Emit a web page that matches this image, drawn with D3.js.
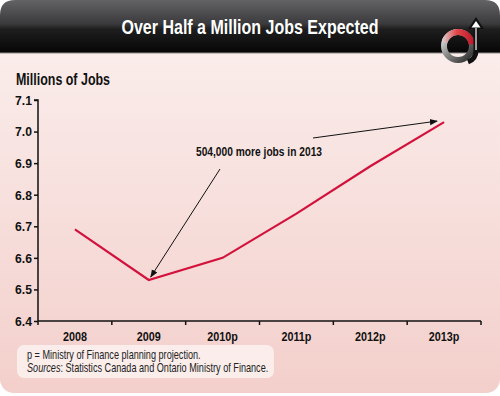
<!DOCTYPE html>
<html>
<head>
<meta charset="utf-8">
<script src="https://cdn.jsdelivr.net/npm/d3@7"></script>
<style>
  body { margin: 0; background: #fff; }
  svg text { font-family: "Liberation Sans", Arial, sans-serif; }
</style>
</head>
<body>
<svg id="chart" width="500" height="396"></svg>
<script>
// data
const years = ["2008", "2009", "2010p", "2011p", "2012p", "2013p"];
const jobs = [6.69, 6.53, 6.60, 6.74, 6.89, 7.03];
const yTicks = [6.4, 6.5, 6.6, 6.7, 6.8, 6.9, 7.0, 7.1];

const svg = d3.select("#chart");
const defs = svg.append("defs");

// squeeze text horizontally to mimic a condensed face
const condense = (sel, f) => sel.each(function() {
  const w = this.getComputedTextLength();
  d3.select(this).attr("textLength", w * f).attr("lengthAdjust", "spacingAndGlyphs");
});

// background gradient (pink panel)
const bg = defs.append("linearGradient").attr("id", "bgGrad").attr("x1", 0).attr("y1", 0).attr("x2", 0).attr("y2", 1);
bg.append("stop").attr("offset", "0%").attr("stop-color", "#fbf1ef");
bg.append("stop").attr("offset", "100%").attr("stop-color", "#f3cfcb");

const hdr = defs.append("linearGradient").attr("id", "hdrGrad").attr("x1", 0).attr("y1", 0).attr("x2", 0).attr("y2", 1);
hdr.append("stop").attr("offset", "0%").attr("stop-color", "#636365");
hdr.append("stop").attr("offset", "45%").attr("stop-color", "#3a3a3c");
hdr.append("stop").attr("offset", "55%").attr("stop-color", "#1e1e1e");
hdr.append("stop").attr("offset", "100%").attr("stop-color", "#060606");

const logoGrad = defs.append("linearGradient").attr("id", "logoGrad").attr("x1", 0).attr("y1", 0).attr("x2", 1).attr("y2", 1);
logoGrad.append("stop").attr("offset", "0%").attr("stop-color", "#eeeeee");
logoGrad.append("stop").attr("offset", "45%").attr("stop-color", "#8a8a8a");
logoGrad.append("stop").attr("offset", "100%").attr("stop-color", "#2a2a2a");

const redGrad = defs.append("linearGradient").attr("id", "redGrad").attr("x1", 0).attr("y1", 0).attr("x2", 1).attr("y2", 0);
redGrad.append("stop").attr("offset", "0%").attr("stop-color", "#d8d8d8");
redGrad.append("stop").attr("offset", "45%").attr("stop-color", "#e2464a");
redGrad.append("stop").attr("offset", "100%").attr("stop-color", "#b81626");

// panel
svg.append("rect").attr("x", 0).attr("y", 0).attr("width", 500).attr("height", 393)
  .attr("rx", 14).attr("fill", "url(#bgGrad)");

// header bar with rounded top only
svg.append("path")
  .attr("d", "M0,53 L0,15 Q0,0 15,0 L485,0 Q500,0 500,15 L500,53 Z")
  .attr("fill", "url(#hdrGrad)");
svg.append("line").attr("x1", 0).attr("x2", 500).attr("y1", 53).attr("y2", 53)
  .attr("stroke", "#8a8a8a").attr("stroke-width", 1);

svg.append("text").attr("x", 250).attr("y", 34).attr("text-anchor", "middle")
  .attr("fill", "#fff").attr("font-size", 21).attr("font-weight", "bold")
  .attr("textLength", 257).attr("lengthAdjust", "spacingAndGlyphs")
  .text("Over Half a Million Jobs Expected");

// logo (ring with arrow)
const logo = svg.append("g").attr("transform", "translate(458,46)");
logo.append("circle").attr("r", 14).attr("fill", "none").attr("stroke", "url(#logoGrad)").attr("stroke-width", 6);
logo.append("path").attr("d", d3.arc()({innerRadius: 11, outerRadius: 17, startAngle: -1.3, endAngle: 1.45}))
  .attr("fill", "url(#redGrad)");
logo.append("path").attr("d", "M10,16 Q18,13 18,4 L18,-18")
  .attr("fill", "none").attr("stroke", "#111").attr("stroke-width", 5);
logo.append("path").attr("d", "M10,-17 L18,-29 L26,-17 Z").attr("fill", "#111");
logo.append("path").attr("d", "M13.5,-18.5 L18,-25 L22.5,-18.5 Z").attr("fill", "#fff");
logo.append("path").attr("d", "M18,4 L18,-18").attr("stroke", "#e6e6e6").attr("stroke-width", 1.3);

// scales
const x = d3.scaleBand().domain(years).range([38, 481]);
const y = d3.scaleLinear().domain([6.4, 7.1]).range([321, 100]);

svg.append("text").attr("x", 16).attr("y", 85).attr("font-size", 16).attr("font-weight", "bold")
  .attr("fill", "#111").attr("textLength", 94).attr("lengthAdjust", "spacingAndGlyphs")
  .text("Millions of Jobs");

// y axis
const yAxis = svg.append("g").attr("transform", "translate(38,0)")
  .call(d3.axisLeft(y).tickValues(yTicks).tickFormat(d3.format(".1f")).tickSize(4).tickPadding(2));
yAxis.selectAll("path, line").attr("stroke", "#111").attr("stroke-width", 1.5);
yAxis.select(".domain").attr("d", "M0,321V100H-4");
yAxis.selectAll("text").attr("font-size", 13.5).attr("font-weight", "bold").attr("fill", "#111")
  .style("font-family", "'Liberation Sans', sans-serif").call(condense, 0.9);

// x axis
const xAxis = svg.append("g").attr("transform", "translate(0,321)")
  .call(d3.axisBottom(x).tickSize(0).tickPadding(10));
xAxis.select(".domain").attr("d", "M38,0H481").attr("stroke", "#111").attr("stroke-width", 1.5);
xAxis.selectAll("text").attr("font-size", 13.5).attr("font-weight", "bold").attr("fill", "#111")
  .style("font-family", "'Liberation Sans', sans-serif").call(condense, 0.8);
xAxis.selectAll(".edge").data(x.domain().map(d => x(d)).concat([x.range()[1]]))
  .enter().append("line").attr("class", "edge")
  .attr("x1", d => d).attr("x2", d => d).attr("y1", 0).attr("y2", 4)
  .attr("stroke", "#111").attr("stroke-width", 1.5);

// data line
const line = d3.line().x((d, i) => x(years[i]) + x.bandwidth() / 2).y(d => y(d));
svg.append("path").datum(jobs).attr("d", line)
  .attr("fill", "none").attr("stroke", "#d3123c").attr("stroke-width", 2.2).attr("stroke-linejoin", "miter");

// annotation
defs.append("marker").attr("id", "arr").attr("viewBox", "0 0 10 10").attr("refX", 9).attr("refY", 5)
  .attr("markerWidth", 8).attr("markerHeight", 8).attr("orient", "auto")
  .append("path").attr("d", "M0,1 L10,5 L0,9 Z").attr("fill", "#111");

svg.append("text").attr("x", 196).attr("y", 156).attr("font-size", 13.5).attr("font-weight", "bold")
  .attr("fill", "#111").attr("textLength", 126).attr("lengthAdjust", "spacingAndGlyphs")
  .text("504,000 more jobs in 2013");

const p09 = [x("2009") + x.bandwidth() / 2, y(jobs[1])];
const p13 = [x("2013p") + x.bandwidth() / 2, y(jobs[5])];
svg.append("line").attr("x1", 220).attr("y1", 169).attr("x2", p09[0] + 2).attr("y2", p09[1] - 3)
  .attr("stroke", "#111").attr("stroke-width", 1).attr("marker-end", "url(#arr)");
svg.append("line").attr("x1", 313).attr("y1", 138).attr("x2", p13[0] - 7).attr("y2", p13[1] - 1)
  .attr("stroke", "#111").attr("stroke-width", 1).attr("marker-end", "url(#arr)");

// footnote box
svg.append("rect").attr("x", 17).attr("y", 345).attr("width", 257).attr("height", 33).attr("rx", 7)
  .attr("fill", "#fbefed").attr("opacity", 0.9);
const note = svg.append("g").attr("transform", "translate(27,0) scale(0.73,1)");
note.append("text").attr("x", 0).attr("y", 359).attr("font-size", 12.5).attr("fill", "#222")
  .text("p = Ministry of Finance planning projection.");
const note2 = note.append("text").attr("x", 0).attr("y", 372).attr("font-size", 12.5).attr("fill", "#222");
note2.append("tspan").attr("font-style", "italic").text("Sources");
note2.append("tspan").text(": Statistics Canada and Ontario Ministry of Finance.");
</script>
</body>
</html>
